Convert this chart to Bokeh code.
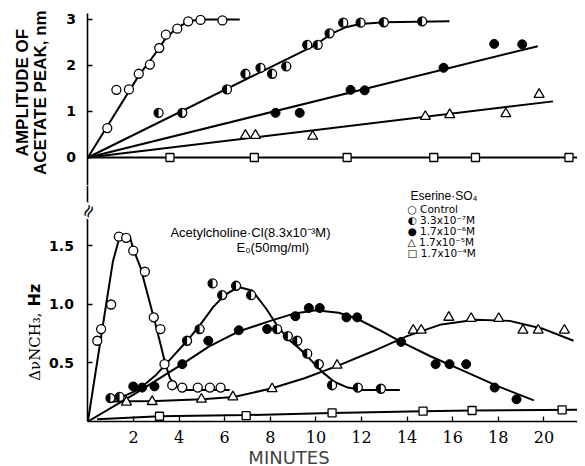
import math
from bokeh.plotting import figure
from bokeh.layouts import column
from bokeh.models import Range1d, FixedTicker, Label, PrintfTickFormatter
from bokeh.embed import file_html
from bokeh.resources import INLINE

# ---------------- data (minutes vs amplitude / shift) ----------------
x_ticks = [2, 4, 6, 8, 10, 12, 14, 16, 18, 20]
top_y_ticks = [0, 1, 2, 3]
bot_y_ticks = [0.5, 1.0, 1.5]

# Top panel: amplitude of acetate peak, nm
top_ctrl_x = [0.85, 1.25, 1.8, 2.23, 2.72, 3.13, 3.42, 3.92, 4.4, 4.94, 5.9]
top_ctrl_y = [0.64, 1.47, 1.48, 1.82, 2.02, 2.38, 2.67, 2.8, 2.96, 2.99, 2.98]
top_ctrl_fit_x = [0, 2.23, 2.72, 3.13, 3.42, 3.92, 4.4, 4.94, 6.66]
top_ctrl_fit_y = [0, 1.78, 2.1, 2.38, 2.6, 2.82, 2.96, 3.0, 3.0]

top_half_x = [3.1, 4.14, 6.1, 6.91, 7.57, 8.08, 8.7, 9.62, 10.08, 10.6, 11.2, 11.96, 12.98, 14.66]
top_half_y = [0.97, 0.97, 1.48, 1.82, 1.95, 1.82, 1.98, 2.45, 2.45, 2.7, 2.93, 2.93, 2.94, 2.96]
top_half_fit_x = [0, 8.44, 10.0, 10.64, 11.3, 11.95, 13.0, 15.86]
top_half_fit_y = [0, 2.07, 2.45, 2.68, 2.83, 2.9, 2.94, 2.96]

top_fill_x = [8.23, 9.29, 11.52, 12.14, 15.6, 17.82, 19.05]
top_fill_y = [0.97, 0.97, 1.47, 1.46, 1.95, 2.47, 2.46]
top_fill_fit_x = [0, 19.73]
top_fill_fit_y = [0, 2.42]

top_tri_x = [6.91, 7.35, 9.86, 14.8, 15.87, 18.33, 19.79]
top_tri_y = [0.48, 0.48, 0.46, 0.89, 0.93, 0.95, 1.37]
top_tri_fit_x = [0, 20.4]
top_tri_fit_y = [0, 1.22]

top_sq_x = [3.6, 7.3, 11.37, 15.17, 17.0, 21.1]
top_sq_y = [0, 0, 0, 0, 0, 0]
top_sq_fit_x = [0, 21.7]
top_sq_fit_y = [0, 0]

# Bottom panel: delta nu NCH3, Hz
bot_ctrl_x = [0.41, 0.58, 1.02, 1.36, 1.68, 1.99, 2.5, 2.89, 3.18, 3.36, 3.7, 4.14, 4.82, 5.35, 5.82]
bot_ctrl_y = [0.69, 0.79, 1.0, 1.58, 1.57, 1.46, 1.28, 0.89, 0.79, 0.49, 0.31, 0.29, 0.29, 0.29, 0.29]
bot_ctrl_fit_x = [0, 0.4, 0.8, 1.1, 1.35, 1.6, 1.85, 2.0, 2.3, 2.6, 2.9, 3.2, 3.4, 3.6, 3.85, 4.2, 6.22]
bot_ctrl_fit_y = [0, 0.5, 1.0, 1.37, 1.55, 1.6, 1.57, 1.47, 1.32, 1.1, 0.88, 0.65, 0.49, 0.37, 0.3, 0.27, 0.27]

bot_half_x = [0.99, 1.39, 4.35, 4.9, 5.47, 5.89, 6.5, 7.16, 8.3, 8.77, 9.18, 9.62, 10.13, 10.71, 11.84, 12.85]
bot_half_y = [0.2, 0.21, 0.69, 0.79, 1.18, 1.08, 1.16, 1.08, 0.79, 0.73, 0.69, 0.58, 0.49, 0.31, 0.29, 0.28]
bot_half_fit_x = [0.9, 1.5, 2.2, 3.0, 3.7, 4.35, 4.9, 5.5, 6.0, 6.6, 7.2, 7.8, 8.3, 8.8, 9.3, 9.8, 10.3, 10.8, 11.4, 12.0, 13.68]
bot_half_fit_y = [0.2, 0.21, 0.27, 0.4, 0.55, 0.69, 0.82, 0.98, 1.08, 1.15, 1.12, 0.97, 0.82, 0.7, 0.62, 0.52, 0.42, 0.34, 0.29, 0.27, 0.27]

bot_fill_x = [1.99, 2.38, 2.92, 4.14, 5.28, 6.62, 7.86, 9.1, 9.69, 10.17, 11.34, 11.81, 13.74, 15.25, 15.86, 16.59, 17.84, 18.8]
bot_fill_y = [0.3, 0.29, 0.3, 0.49, 0.69, 0.78, 0.79, 0.9, 0.97, 0.97, 0.89, 0.89, 0.68, 0.49, 0.49, 0.49, 0.29, 0.19]
bot_fill_fit_x = [0, 2, 4.14, 5.3, 6.62, 8.0, 9.0, 10.0, 11.0, 11.8, 12.8, 13.74, 15, 16.5, 18, 19.56]
bot_fill_fit_y = [0, 0.23, 0.49, 0.64, 0.77, 0.86, 0.92, 0.95, 0.93, 0.88, 0.78, 0.68, 0.56, 0.43, 0.3, 0.18]

bot_tri_x = [1.69, 2.82, 4.98, 6.36, 8.08, 10.93, 14.27, 14.62, 15.83, 16.81, 18.02, 19.08, 19.75, 20.9]
bot_tri_y = [0.165, 0.17, 0.19, 0.21, 0.28, 0.48, 0.78, 0.78, 0.89, 0.88, 0.88, 0.78, 0.78, 0.78]
bot_tri_fit_x = [1.1, 3, 5, 6.4, 8, 9.5, 11, 12.5, 14, 15.5, 17, 18.5, 20, 21.3]
bot_tri_fit_y = [0.17, 0.175, 0.19, 0.21, 0.28, 0.37, 0.48, 0.6, 0.73, 0.83, 0.87, 0.86, 0.79, 0.69]

bot_sq_x = [3.14, 6.94, 10.71, 14.7, 16.85, 20.8]
bot_sq_y = [0.045, 0.05, 0.074, 0.088, 0.094, 0.1]
bot_sq_fit_x = [0.4, 3.14, 6.94, 10.71, 14.7, 16.85, 21.6]
bot_sq_fit_y = [0.02, 0.045, 0.055, 0.072, 0.088, 0.094, 0.1]

legend_title = "Eserine\u00b7SO\u2084"
legend_rows = ["\u25cb Control", "\u25d0 3.3x10\u207b\u2077M", "\u25cf 1.7x10\u207b\u2076M",
               "\u25b3 1.7x10\u207b\u2075M", "\u25a1 1.7x10\u207b\u2074M"]

# ---------------- figures ----------------
X0, X1 = -3.833, 21.474
xr = Range1d(X0, X1)
common = dict(frame_width=577, x_range=xr, min_border_left=0, min_border_right=0,
              toolbar_location=None, output_backend="svg")

top = figure(frame_height=185, y_range=Range1d(-0.609, 3.413),
             min_border_top=0, min_border_bottom=0, **common)
bot = figure(frame_height=236, y_range=Range1d(0, 2.017),
             min_border_top=0, min_border_bottom=45, **common)

for p in (top, bot):
    p.grid.visible = False
    p.outline_line_color = None
    p.yaxis.fixed_location = 0
    p.yaxis.axis_line_width = 1.6
    p.yaxis.axis_line_color = "black"
    p.yaxis.major_tick_in = 5
    p.yaxis.major_tick_out = 0
    p.yaxis.major_tick_line_width = 1.3
    p.yaxis.minor_tick_line_color = None
    p.yaxis.major_label_text_font = "DejaVu Sans"
    p.yaxis.major_label_text_font_style = "bold"
    p.yaxis.major_label_text_font_size = "14px"
    p.yaxis.major_label_text_color = "black"

top.xaxis.visible = False
top.yaxis.bounds = (-0.609, 3.13)
top.yaxis.ticker = FixedTicker(ticks=top_y_ticks)
top.yaxis.major_label_standoff = 12
bot.yaxis.ticker = FixedTicker(ticks=bot_y_ticks)
bot.yaxis.formatter = PrintfTickFormatter(format="%.1f")
bot.yaxis.major_label_standoff = 14

bot.xaxis.ticker = FixedTicker(ticks=x_ticks)
bot.xaxis.bounds = (0, X1)
bot.xaxis.axis_line_width = 1.6
bot.xaxis.axis_line_color = "black"
bot.xaxis.major_tick_in = 5
bot.xaxis.major_tick_out = 0
bot.xaxis.major_tick_line_width = 1.3
bot.xaxis.minor_tick_line_color = None
bot.xaxis.major_label_standoff = 9
bot.xaxis.major_label_text_font = "DejaVu Serif"
bot.xaxis.major_label_text_font_size = "16px"
bot.xaxis.major_label_text_color = "black"
bot.xaxis.axis_label = "MINUTES"
bot.xaxis.axis_label_text_font = "DejaVu Sans"
bot.xaxis.axis_label_text_font_style = "normal"
bot.xaxis.axis_label_text_font_size = "18px"
bot.xaxis.axis_label_standoff = 1


def half_circles(p, xs, ys):
    p.scatter(xs, ys, marker="circle", size=9, fill_color="white", line_color="black", line_width=1.3)
    p.wedge(x=xs, y=ys, radius=4.3, radius_units="screen", start_angle=math.pi / 2,
            end_angle=3 * math.pi / 2, fill_color="black", line_color=None)


def panel(p, ctrl, half, fill, tri, sq):
    for fx, fy in (ctrl[2:], half[2:], fill[2:], tri[2:], sq[2:]):
        p.line(fx, fy, line_color="black", line_width=2)
    p.scatter(ctrl[0], ctrl[1], marker="circle", size=9, fill_color="white", line_color="black", line_width=1.3)
    half_circles(p, half[0], half[1])
    p.scatter(fill[0], fill[1], marker="circle", size=9, fill_color="black", line_color="black")
    p.scatter(tri[0], tri[1], marker="triangle", size=10, fill_color="white", line_color="black", line_width=1.3)
    p.scatter(sq[0], sq[1], marker="square", size=8, fill_color="white", line_color="black", line_width=1.3)


panel(top,
      (top_ctrl_x, top_ctrl_y, top_ctrl_fit_x, top_ctrl_fit_y),
      (top_half_x, top_half_y, top_half_fit_x, top_half_fit_y),
      (top_fill_x, top_fill_y, top_fill_fit_x, top_fill_fit_y),
      (top_tri_x, top_tri_y, top_tri_fit_x, top_tri_fit_y),
      (top_sq_x, top_sq_y, top_sq_fit_x, top_sq_fit_y))
panel(bot,
      (bot_ctrl_x, bot_ctrl_y, bot_ctrl_fit_x, bot_ctrl_fit_y),
      (bot_half_x, bot_half_y, bot_half_fit_x, bot_half_fit_y),
      (bot_fill_x, bot_fill_y, bot_fill_fit_x, bot_fill_fit_y),
      (bot_tri_x, bot_tri_y, bot_tri_fit_x, bot_tri_fit_y),
      (bot_sq_x, bot_sq_y, bot_sq_fit_x, bot_sq_fit_y))

# ---------------- texts ----------------
for txt, lx in (("AMPLITUDE OF", -2.87), ("ACETATE PEAK, nm", -2.08)):
    top.add_layout(Label(x=lx, y=1.41, text=txt, angle=math.pi / 2, text_align="center",
                         text_baseline="middle", text_font="Liberation Sans",
                         text_font_style="bold", text_font_size="17px", text_color="black"))

bot.add_layout(Label(x=-2.34, y=1.08, text="Hz", angle=math.pi / 2, text_align="center",
                     text_baseline="middle", text_font="DejaVu Sans", text_font_style="bold",
                     text_font_size="16px", text_color="black"))
bot.add_layout(Label(x=-2.34, y=0.64, text="\u0394\u03bdNCH\u2083,", angle=math.pi / 2,
                     text_align="center", text_baseline="middle", text_font="DejaVu Serif",
                     text_font_size="15px", text_color="black"))

# axis break mark
bot.add_layout(Label(x=0, y=1.80, text="\u2248", angle=1.1, text_align="center",
                     text_baseline="middle", text_font="DejaVu Sans", text_font_size="18px",
                     text_color="black", background_fill_color="white"))

bot.add_layout(Label(x=3.62, y=1.615, text="Acetylcholine\u00b7Cl(8.3x10\u207b\u00b3M)",
                     text_align="left", text_baseline="middle", text_font="Liberation Sans",
                     text_font_size="13px", text_color="black"))
bot.add_layout(Label(x=6.52, y=1.487, text="E\u2080(50mg/ml)",
                     text_align="left", text_baseline="middle", text_font="Liberation Sans",
                     text_font_size="13px", text_color="black"))

bot.add_layout(Label(x=14.15, y=1.923, text=legend_title, text_align="left",
                     text_baseline="middle", text_font="Liberation Sans",
                     text_font_size="12px", text_color="black"))
for i, row in enumerate(legend_rows):
    bot.add_layout(Label(x=14.02, y=1.812 - i * 0.094, text=row, text_align="left",
                         text_baseline="middle", text_font="DejaVu Sans",
                         text_font_size="10.5px", text_color="black"))

layout = column(top, bot)
open("out.html", "w").write(file_html(layout, INLINE))
